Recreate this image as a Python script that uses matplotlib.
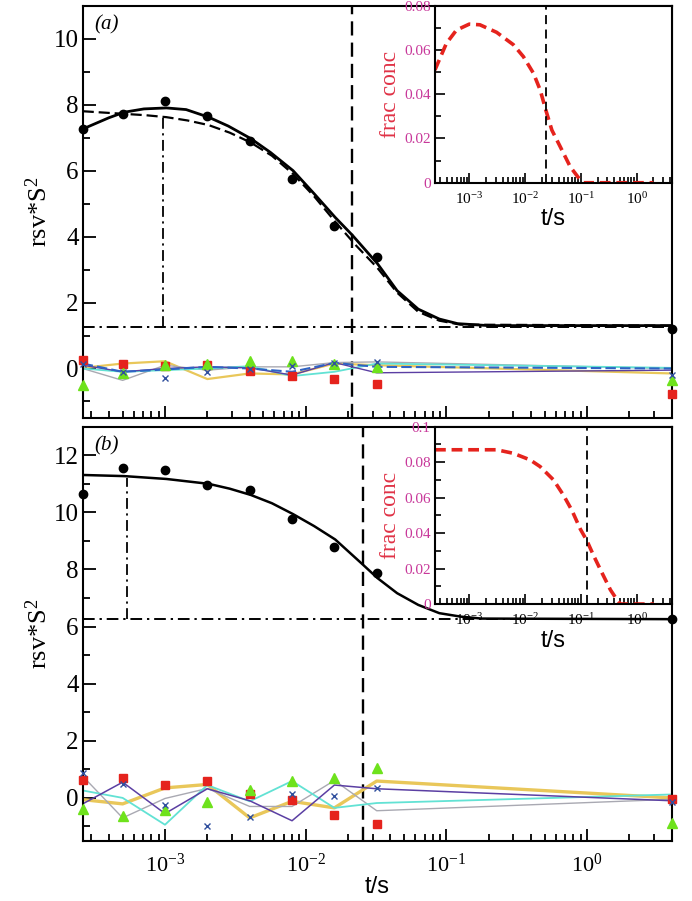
import numpy as np
import matplotlib
matplotlib.use("Agg")
import matplotlib.pyplot as plt
from matplotlib.ticker import LogLocator, MultipleLocator, NullFormatter, LogFormatterMathtext, FuncFormatter

plt.rcParams['font.family'] = ['Liberation Serif', 'DejaVu Serif']
plt.rcParams['mathtext.fontset'] = 'custom'
plt.rcParams['mathtext.rm'] = 'Liberation Serif'
plt.rcParams['mathtext.it'] = 'Liberation Serif:italic'

# measurement times (s)
t_pts = [2.6e-4, 5e-4, 1e-3, 2e-3, 4e-3, 8e-3, 1.6e-2, 3.2e-2, 4.0]

# panel (a)
data_a = [7.26, 7.72, 8.10, 7.67, 6.91, 5.75, 4.31, 3.37, 1.20]
fit_a_logt = [-3.585, -3.4, -3.29, -3.15, -2.99, -2.85, -2.69, -2.55, -2.39, -2.25, -2.09,
              -1.94, -1.79, -1.67, -1.49, -1.35, -1.2, -1.05, -0.92, -0.7, 0.602]
fit_a = [7.26, 7.6, 7.77, 7.87, 7.9, 7.85, 7.62, 7.35, 6.97, 6.55, 6.0,
         5.3, 4.58, 4.05, 3.18, 2.36, 1.8, 1.5, 1.36, 1.3, 1.3]
fit2_a_logt = [-3.585, -3.44, -3.29, -3.14, -2.99, -2.84, -2.69, -2.54, -2.39, -2.24, -2.09,
               -1.94, -1.79, -1.64, -1.49, -1.35, -1.2, -1.05, -0.9, 0.602]
fit2_a = [7.8, 7.76, 7.72, 7.68, 7.62, 7.52, 7.38, 7.15, 6.85, 6.45, 5.9,
          5.22, 4.45, 3.72, 3.05, 2.3, 1.72, 1.45, 1.33, 1.3]
base_a = 1.26
mark_a = 9.6e-4
top_a = 7.62
tcut_a = 0.0214

res_a_red = [0.27, 0.15, 0.08, 0.10, -0.08, -0.22, -0.33, -0.48, -0.77]
res_a_green = [-0.49, -0.13, 0.10, 0.13, 0.22, 0.23, 0.13, 0.05, -0.36]
res_a_blue = [0.15, -0.10, -0.30, -0.10, -0.03, 0.08, 0.18, 0.20, -0.21]
line_a_gold = [0.02, 0.15, 0.22, -0.32, -0.15, -0.18, 0.15, 0.10, -0.15]
line_a_cyan = [0.0, -0.10, -0.05, 0.0, 0.07, -0.23, -0.10, 0.15, 0.02]
line_a_gray = [0.0, -0.36, 0.10, -0.05, 0.05, 0.05, 0.18, 0.20, 0.0]
line_a_purple = [0.10, -0.10, 0.0, 0.05, 0.02, -0.20, 0.18, -0.13, -0.05]
line_a_blue = [0.15, -0.10, -0.03, 0.05, 0.0, -0.10, 0.17, 0.05, 0.0]

ins_a_logt = [-3.615, -3.41, -3.23, -3.0, -2.81, -2.51, -2.21, -2.03, -1.85, -1.73, -1.63,
              -1.52, -1.37, -1.19, -1.01, -0.95, 0.3]
ins_a = [0.051, 0.063, 0.069, 0.0717, 0.0714, 0.068, 0.0624, 0.057, 0.0495, 0.042, 0.033,
         0.0238, 0.0163, 0.0072, 0.0012, 0.0, 0.0]
ins_cut_a = 0.0235

# panel (b)
data_b = [10.64, 11.55, 11.49, 10.97, 10.77, 9.78, 8.78, 7.86, 6.26]
fit_b_logt = [-3.585, -3.29, -2.99, -2.69, -2.54, -2.39, -2.24, -2.09, -1.94, -1.79,
              -1.6, -1.49, -1.35, -1.2, -1.05, -0.9, -0.75, 0.602]
fit_b = [11.31, 11.27, 11.17, 11.0, 10.83, 10.61, 10.32, 9.94, 9.52, 9.05,
         8.2, 7.7, 7.17, 6.76, 6.47, 6.35, 6.28, 6.26]
base_b = 6.26
mark_b = 5.4e-4
top_b = 11.2
tcut_b = 0.0256

res_b_red = [0.61, 0.70, 0.44, 0.59, 0.12, -0.09, -0.59, -0.92, -0.05]
res_b_green = [-0.39, -0.65, -0.41, -0.14, 0.29, 0.59, 0.68, 1.04, -0.88]
res_b_blue = [0.88, 0.49, -0.24, -1.0, -0.68, 0.12, 0.06, 0.35, -0.14]
line_b_gold = [-0.06, -0.21, 0.35, 0.47, -0.70, -0.12, -0.35, 0.59, 0.0]
line_b_cyan = [0.26, 0.0, -0.94, 0.45, -0.12, 0.59, -0.35, -0.18, 0.12]
line_b_gray = [0.76, -0.70, -0.02, 0.33, -0.30, -0.30, 0.61, -0.45, -0.05]
line_b_purple = [-0.21, 0.55, -0.55, 0.32, -0.10, -0.80, 0.45, 0.32, -0.10]

ins_b_logt = [-3.615, -2.51, -2.21, -1.91, -1.73, -1.49, -1.31, -1.16, -1.01, -0.89,
              -0.77, -0.62, -0.47, -0.35, -0.29, 0.31]
ins_b = [0.087, 0.087, 0.085, 0.0813, 0.0775, 0.070, 0.0613, 0.0528, 0.0423, 0.0356,
         0.0272, 0.0175, 0.008, 0.0023, 0.0, 0.0]
ins_cut_b = 0.129

GOLD = '#e9c75a'
CYAN = '#62e2d4'
GRAY = '#a9a9b2'
PURPLE = '#5b3fa3'
BLUE = '#2f63c4'
RED = '#e5231d'
GREEN = '#6ee21c'
XBLUE = '#31509e'
MAGENTA = '#c8389a'
LABRED = '#e03347'

fig = plt.figure(figsize=(6.92, 9.01), dpi=100)
ax_a = fig.add_axes([0.1195, 0.5361, 0.8512, 0.4576])
ax_b = fig.add_axes([0.1195, 0.0669, 0.8512, 0.4595])
in_a = fig.add_axes([0.6286, 0.7972, 0.3420, 0.1964])
in_b = fig.add_axes([0.6286, 0.3296, 0.3420, 0.1968])


def style_main(ax, ylim, label):
    ax.set_xscale('log')
    ax.set_xlim(2.6e-4, 4.0)
    ax.set_ylim(*ylim)
    ax.xaxis.set_major_locator(LogLocator(base=10))
    ax.xaxis.set_minor_locator(LogLocator(base=10, subs=range(2, 10)))
    ax.xaxis.set_minor_formatter(NullFormatter())
    ax.xaxis.set_major_formatter(LogFormatterMathtext())
    ax.yaxis.set_major_locator(MultipleLocator(2))
    ax.yaxis.set_minor_locator(MultipleLocator(1))
    ax.tick_params(which='both', direction='in', top=False, right=False, width=1.3)
    ax.tick_params(which='major', length=9)
    ax.tick_params(which='minor', length=5)
    ax.tick_params(axis='y', labelsize=18, pad=3)
    ax.tick_params(axis='x', labelsize=16, pad=9)
    for s in ax.spines.values():
        s.set_linewidth(1.5)
    ax.set_ylabel(r'rsv*S$^{2}$', fontsize=19)
    ax.yaxis.set_label_coords(-0.052, 0.5)
    ax.text(0.041, 0.953, label, transform=ax.transAxes, fontsize=15,
            style='italic', ha='center', va='center')


def draw_residuals(ax, reds, greens, blues, lines):
    for vals, col, lw, dash in lines:
        ln, = ax.plot(t_pts, vals, color=col, lw=lw, zorder=2)
        if dash:
            ln.set_dashes(dash)
    ax.plot(t_pts, reds, 's', color=RED, ms=5.5, clip_on=False, zorder=4)
    ax.plot(t_pts, greens, '^', color=GREEN, ms=6.5, clip_on=False, zorder=4)
    ax.plot(t_pts, blues, 'x', color=XBLUE, ms=4, mew=1.0, clip_on=False, zorder=5)


def style_inset(ax, ymax, ylab_fmt):
    ax.set_xscale('log')
    ax.set_xlim(2.43e-4, 4.24)
    ax.set_ylim(0, ymax)
    ax.xaxis.set_major_locator(LogLocator(base=10))
    ax.xaxis.set_minor_locator(LogLocator(base=10, subs=range(2, 10)))
    ax.xaxis.set_minor_formatter(NullFormatter())
    ax.xaxis.set_major_formatter(LogFormatterMathtext())
    ax.yaxis.set_major_locator(MultipleLocator(0.02))
    ax.yaxis.set_minor_locator(MultipleLocator(0.01))
    ax.yaxis.set_major_formatter(FuncFormatter(ylab_fmt))
    ax.tick_params(which='both', direction='in', top=False, right=False, width=1.2)
    ax.tick_params(which='major', length=7)
    ax.tick_params(which='minor', length=4)
    ax.tick_params(axis='y', labelsize=11, labelcolor=MAGENTA, pad=3)
    ax.tick_params(axis='x', labelsize=11, pad=6)
    for s in ax.spines.values():
        s.set_linewidth(1.5)
    ax.set_ylabel('frac conc', color=LABRED, fontsize=17, labelpad=2)
    ax.set_xlabel('t/s', family='Liberation Sans', fontsize=17, labelpad=1)


def yfmt(v, pos):
    return '0' if abs(v) < 1e-9 else '%g' % v


# ---- panel (a)
style_main(ax_a, (-1.5, 11), '(a)')
ax_a.tick_params(axis='x', labelbottom=False)
ax_a.plot(10 ** np.array(fit2_a_logt), fit2_a, color='black', lw=1.6, dashes=(5, 2.2), zorder=3)
ax_a.plot(10 ** np.array(fit_a_logt), fit_a, color='black', lw=2.0, zorder=3)
ax_a.plot(t_pts, data_a, 'o', color='black', ms=6, clip_on=False, zorder=6)
ax_a.axhline(base_a, color='black', lw=1.4, dashes=(6, 2.5, 1.2, 2.5))
ax_a.plot([mark_a, mark_a], [base_a, top_a], color='black', lw=1.3, dashes=(6, 2.5, 1.2, 2.5))
ax_a.axvline(tcut_a, color='black', lw=1.7, dashes=(6, 3))
draw_residuals(ax_a, res_a_red, res_a_green, res_a_blue,
               [(line_a_gold, GOLD, 1.6, None), (line_a_gray, GRAY, 1.0, None),
                (line_a_cyan, CYAN, 1.3, None), (line_a_purple, PURPLE, 1.0, None),
                (line_a_blue, BLUE, 1.5, (5, 2))])

style_inset(in_a, 0.08, yfmt)
in_a.plot(10 ** np.array(ins_a_logt), ins_a, color=RED, lw=2.6, dashes=(3, 1.6))
in_a.axvline(ins_cut_a, color='black', lw=1.3, dashes=(5, 3))

# ---- panel (b)
style_main(ax_b, (-1.5, 13), '(b)')
ax_b.set_xlabel('t/s', family='Liberation Sans', fontsize=17, labelpad=0)
ax_b.plot(10 ** np.array(fit_b_logt), fit_b, color='black', lw=1.8, zorder=3)
ax_b.plot(t_pts, data_b, 'o', color='black', ms=6, clip_on=False, zorder=6)
ax_b.axhline(base_b, color='black', lw=1.4, dashes=(6, 2.5, 1.2, 2.5))
ax_b.plot([mark_b, mark_b], [base_b, top_b], color='black', lw=1.3, dashes=(6, 2.5, 1.2, 2.5))
ax_b.axvline(tcut_b, color='black', lw=1.7, dashes=(6, 3))
draw_residuals(ax_b, res_b_red, res_b_green, res_b_blue,
               [(line_b_gold, GOLD, 2.4, None), (line_b_gray, GRAY, 1.0, None),
                (line_b_cyan, CYAN, 1.3, None), (line_b_purple, PURPLE, 1.1, None)])

style_inset(in_b, 0.1, yfmt)
in_b.plot(10 ** np.array(ins_b_logt), ins_b, color=RED, lw=2.6, dashes=(3, 1.6))
in_b.axvline(ins_cut_b, color='black', lw=1.3, dashes=(5, 3))

fig.savefig('out.png', dpi=100)
